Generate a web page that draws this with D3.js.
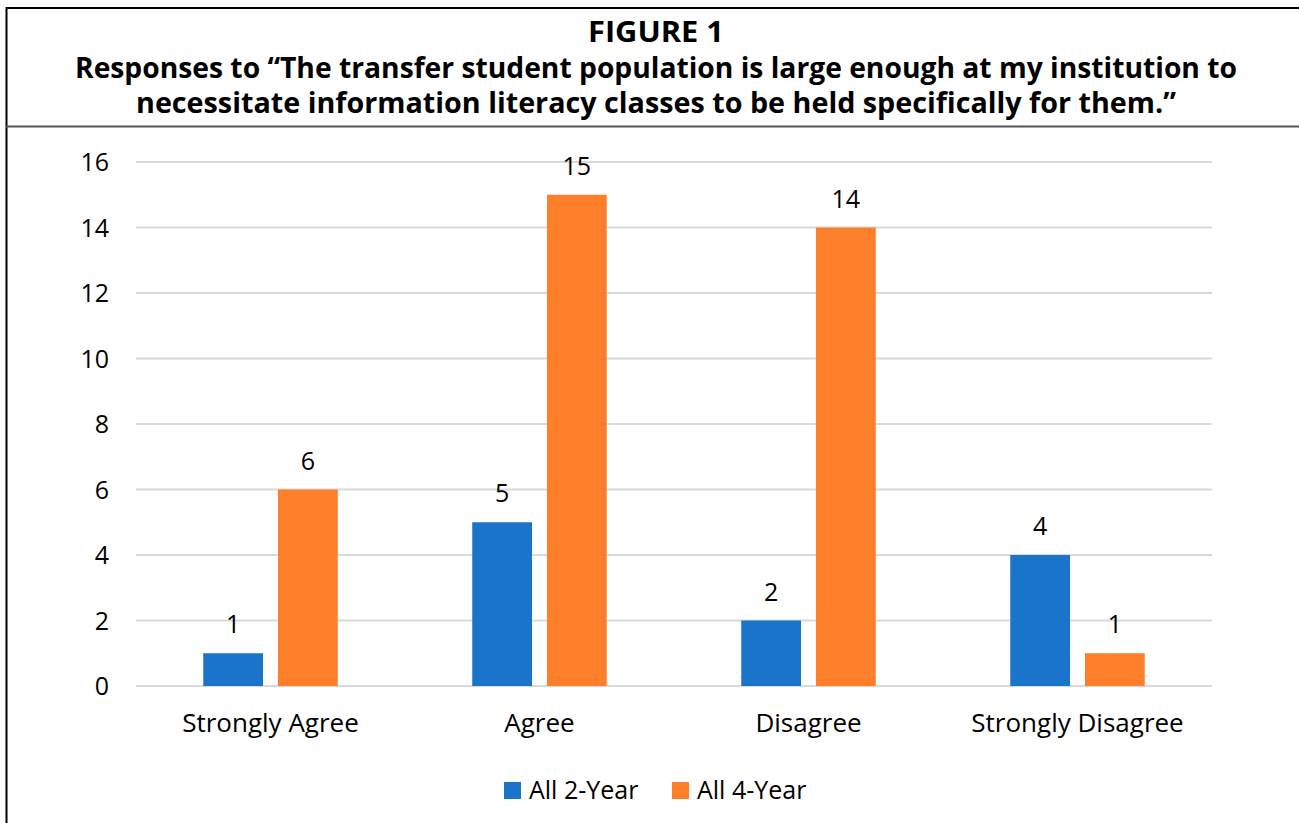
<!DOCTYPE html>
<meta charset="utf-8">
<style>
  body { margin: 0; background: #fff; }
  .title { font-family: "Open Sans", sans-serif; font-weight: 700; fill: #000; }
  .tick text, .lbl, .legend text { font-family: "Open Sans", sans-serif; fill: #000; }
</style>
<body>
<script src="https://d3js.org/d3.v7.min.js"></script>
<script>

// data
var categories = ["Strongly Agree", "Agree", "Disagree", "Strongly Disagree"];
var seriesNames = ["All 2-Year", "All 4-Year"];
var twoYear = [1, 5, 2, 4];
var fourYear = [6, 15, 14, 1];
var yTicks = [0, 2, 4, 6, 8, 10, 12, 14, 16];
var titleLines = [
  "FIGURE 1",
  "Responses to \u201cThe transfer student population is large enough at my institution to",
  "necessitate information literacy classes to be held specifically for them.\u201d"
];

var colors = ["#1a74c9", "#fe7f2a"];

var W = 1299, H = 823;
var svg = d3.select("body").append("svg")
    .attr("width", W)
    .attr("height", H);

// frame lines
svg.append("line").attr("x1", 6.5).attr("x2", 6.5).attr("y1", 7).attr("y2", H)
    .attr("stroke", "#000").attr("stroke-width", 2);
svg.append("line").attr("x1", 6).attr("x2", W).attr("y1", 8).attr("y2", 8)
    .attr("stroke", "#000").attr("stroke-width", 2);
svg.append("line").attr("x1", 6).attr("x2", W).attr("y1", 126.5).attr("y2", 126.5)
    .attr("stroke", "#555").attr("stroke-width", 2);

// title
var titleY = [42, 78, 113];
var titleW = [136, 1162, 1040];
svg.selectAll(".title").data(titleLines).enter().append("text")
    .attr("class", "title")
    .attr("x", 656)
    .attr("y", function(d, i) { return titleY[i]; })
    .attr("text-anchor", "middle")
    .attr("font-size", 28)
    .attr("textLength", function(d, i) { return titleW[i]; })
    .attr("lengthAdjust", "spacingAndGlyphs")
    .text(function(d) { return d; });

// scales
var x0 = d3.scaleBand().domain(categories).range([136, 1212]).paddingInner(0.5).paddingOuter(0.25);
var x1 = d3.scaleBand().domain(seriesNames).range([0, x0.bandwidth()]).paddingInner(0.2);
var y = d3.scaleLinear().domain([0, 16]).range([686, 162]);

// gridlines
svg.append("g").selectAll("line").data(yTicks).enter().append("line")
    .attr("x1", 136).attr("x2", 1212)
    .attr("y1", function(d) { return y(d); })
    .attr("y2", function(d) { return y(d); })
    .attr("stroke", "#d9d9d9").attr("stroke-width", 2);

// y axis
var yAxis = svg.append("g")
    .attr("transform", "translate(109,0)")
    .call(d3.axisLeft(y).tickValues(yTicks).tickSize(0).tickPadding(0));
yAxis.select(".domain").remove();
yAxis.selectAll("text").attr("font-size", 25).attr("text-anchor", "end").attr("dy", "0.35em");

// x axis
var xAxis = svg.append("g")
    .attr("transform", "translate(0,686)")
    .call(d3.axisBottom(x0).tickSize(0).tickPadding(28));
xAxis.select(".domain").remove();
xAxis.selectAll("text").attr("font-size", 26);

// bars
var rows = categories.map(function(c, i) {
  return { cat: c, vals: [twoYear[i], fourYear[i]] };
});
var groups = svg.selectAll(".grp").data(rows).enter().append("g")
    .attr("class", "grp")
    .attr("transform", function(d) { return "translate(" + x0(d.cat) + ",0)"; });

var cells = groups.selectAll(".cell")
    .data(function(d) { return d.vals.map(function(v, j) { return { s: seriesNames[j], v: v, j: j }; }); })
    .enter().append("g").attr("class", "cell");

cells.append("rect")
    .attr("x", function(d) { return x1(d.s); })
    .attr("width", x1.bandwidth())
    .attr("y", function(d) { return y(d.v); })
    .attr("height", function(d) { return y(0) - y(d.v); })
    .attr("fill", function(d) { return colors[d.j]; });

cells.append("text")
    .attr("class", "lbl")
    .attr("x", function(d) { return x1(d.s) + x1.bandwidth() / 2; })
    .attr("y", function(d) { return y(d.v) - 20; })
    .attr("text-anchor", "middle")
    .attr("font-size", 25)
    .text(function(d) { return d.v; });

// legend
var legend = svg.append("g").attr("class", "legend");
var legX = [504, 672];
seriesNames.forEach(function(s, i) {
  legend.append("rect").attr("x", legX[i]).attr("y", 782).attr("width", 17).attr("height", 17)
      .attr("fill", colors[i]);
  legend.append("text").attr("x", legX[i] + 25).attr("y", 799)
      .attr("font-size", 25).text(s);
});

</script>
</body>
